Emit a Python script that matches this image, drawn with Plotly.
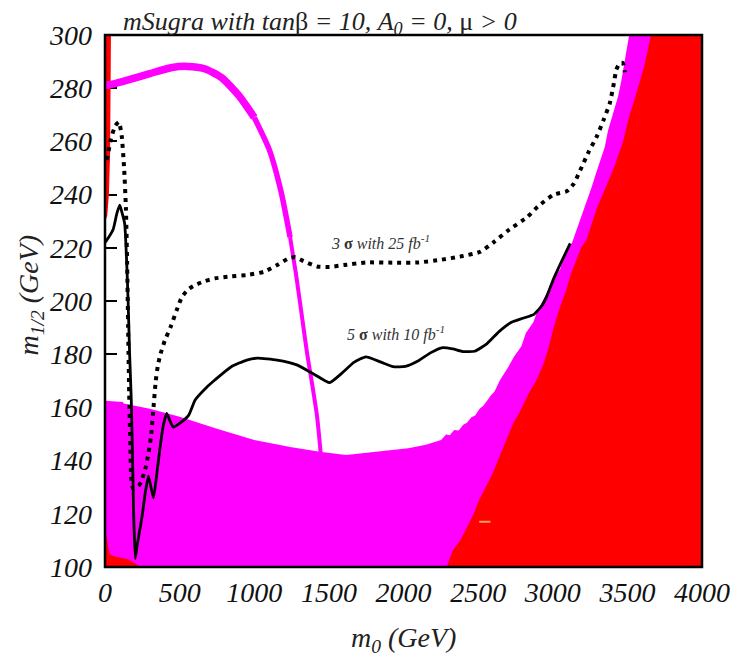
import plotly.graph_objects as go

# ---------------- data ----------------
x_ticks = [0, 500, 1000, 1500, 2000, 2500, 3000, 3500, 4000]
y_ticks = [100, 120, 140, 160, 180, 200, 220, 240, 260, 280, 300]

# magenta curve (thick line)
mag_curve_m0 = [0, 50, 150, 300, 450, 550, 667, 780, 900, 1000, 1100, 1180, 1240, 1280, 1320, 1355, 1390, 1420, 1440, 1445]
mag_curve_m12 = [281, 281.5, 283, 285.5, 287.8, 288.2, 287.3, 284, 277, 269, 257, 241, 224, 210, 194, 180, 168, 157, 146, 142.5]

# magenta region: top boundary of lower region
mag_top_m0 = [0, 120, 125, 300, 500, 750, 1000, 1250, 1440, 1615, 1812, 2032, 2150, 2252, 2285, 2310, 2340, 2370,
              2400, 2425, 2455, 2480, 2510, 2535, 2560, 2585, 2610, 2630, 2647]
mag_top_m12 = [162.5, 162.0, 161.5, 159.5, 156.5, 152, 147.7, 145, 143.3, 142.1, 143.3, 144.6, 146, 147.7, 149.8, 149.5,
               151.5, 151.3, 153.5, 154.2, 156.3, 157, 159.5, 160.6, 162.5, 164.5, 166, 168.5, 170.3]
# magenta band: left edge rising to the top
band_m0 = [2700, 2740, 2790, 2820, 2870, 2895, 2960, 2990, 3050, 3075, 3130, 3155, 3196, 3220, 3262, 3290, 3349,
           3370, 3438, 3460, 3504, 3512]
band_m12 = [175, 179, 183, 188, 192, 196, 203, 207, 212, 217, 222, 226, 232, 236, 243, 248, 258, 264, 277, 283, 297, 300]

# red region boundary (right)
red_m0 = [2290, 2328, 2380, 2438, 2471, 2505, 2550, 2596, 2625, 2676, 2735, 2776, 2810, 2846, 2889, 2936, 2970, 3006,
          3050, 3090, 3120, 3156, 3190, 3226, 3251, 3296, 3350, 3416, 3471, 3510, 3560, 3616, 3658]
red_m12 = [100, 106, 110, 116, 120, 125, 130, 135, 139, 146, 154, 158, 162, 166, 170, 176, 182, 190, 198, 204, 210, 215,
           220, 223, 227, 235, 242, 251, 260, 269, 278, 289, 300]

# small red areas at the left edge
red_bl_m0 = [0, 0, 15, 30, 60, 150, 242]
red_bl_m12 = [100, 114, 110, 105, 104, 103, 100]
red_tl_m0 = [0, 0, 40, 38, 34, 26, 15]
red_tl_m12 = [230, 300, 300, 275, 255, 240, 232]

# 5 sigma with 10 fb^-1 (solid)
s5_m0 = [0, 25, 55, 80, 99, 115, 132, 145, 154, 165, 176, 185, 193, 203, 215, 230, 247, 270, 291, 308, 325, 345, 369,
         390, 413, 435, 457, 500, 560, 604, 680, 736, 846, 950, 1021, 1153, 1285, 1400, 1505, 1580, 1670, 1748, 1850,
         1930, 2013, 2100, 2180, 2256, 2330, 2400, 2477, 2560, 2640, 2720, 2800, 2874, 2930, 2962, 3006, 3060, 3117]
s5_m12 = [222, 224, 227, 233, 236, 233, 229, 215, 201.6, 180, 162.8, 140, 118, 103.2, 108, 113, 118.4, 128, 134.2, 130,
          126, 134, 145, 153, 157.7, 155, 152.6, 154, 157, 162.8, 167.5, 170.3, 175.3, 177.8, 178.5, 177.8, 176, 172.5,
          169.3, 172.5, 177, 179, 177, 175.3, 175.4, 177.5, 180.5, 182.4, 182, 181, 181.1, 184, 188.5, 191.9, 193.5,
          195, 198.5, 202, 208.4, 215, 221.7]

# 3 sigma with 25 fb^-1 (dotted)
s3_m0 = [13, 40, 70, 93, 112, 128, 140, 148, 155, 162, 170, 176, 188, 203, 225, 242, 260, 275, 292, 308, 325, 340, 355,
         373, 400, 440, 480, 516, 560, 604, 670, 736, 850, 955, 1066, 1153, 1230, 1275, 1330, 1420, 1505, 1600, 1750,
         1947, 2100, 2250, 2388, 2515, 2609, 2700, 2828, 2900, 3006, 3095, 3140, 3183, 3240, 3293, 3340, 3382, 3410,
         3426, 3450, 3470, 3483]
s3_m12 = [253, 261, 266, 267.3, 262, 250, 235, 215, 190, 165, 145, 133, 129.5, 129.8, 130.5, 132, 135, 138, 143, 149,
          160, 170, 176, 180.3, 185, 190.3, 196.5, 201.6, 204.5, 206, 207.5, 208.5, 209.3, 209.8, 211, 213.5, 216, 216.5,
          215, 213, 212.8, 213.5, 214.5, 214.4, 214.5, 215.5, 216.8, 218.5, 222.3, 226.5, 231.5, 235.5, 240, 241.3, 244,
          249, 256, 261.6, 268, 274.3, 282, 287, 289.5, 289.5, 286]

# white speck inside the red area
speck_m0 = [2545]
speck_m12 = [117]

# labels
label3_pos = (1845, 222)
label5_pos = (1951, 187.6)

# ---------------- figure ----------------
MAG = "#FF00FF"
RED = "#FF0000"
FONT = "Liberation Serif"

fig = go.Figure()

# magenta region
mag_poly_x = [0] + mag_top_m0 + band_m0 + [4000, 4000, 0]
mag_poly_y = [100] + mag_top_m12 + band_m12 + [300, 100, 100]
fig.add_trace(go.Scatter(x=mag_poly_x, y=mag_poly_y, fill="toself", fillcolor=MAG, mode="lines",
                         line=dict(width=0, color=MAG), hoverinfo="skip"))
# red region
red_poly_x = red_m0 + [4000, 4000, red_m0[0]]
red_poly_y = red_m12 + [300, 100, 100]
fig.add_trace(go.Scatter(x=red_poly_x, y=red_poly_y, fill="toself", fillcolor=RED, mode="lines",
                         line=dict(width=0, color=RED), hoverinfo="skip"))
fig.add_trace(go.Scatter(x=red_bl_m0 + [0], y=red_bl_m12 + [100], fill="toself", fillcolor=RED, mode="lines",
                         line=dict(width=0, color=RED), hoverinfo="skip"))
fig.add_trace(go.Scatter(x=red_tl_m0 + [0], y=red_tl_m12 + [230], fill="toself", fillcolor=RED, mode="lines",
                         line=dict(width=0, color=RED), hoverinfo="skip"))
fig.add_trace(go.Scatter(x=speck_m0, y=speck_m12, mode="markers",
                         marker=dict(symbol="line-ew-open", size=8, line=dict(width=2, color="white")),
                         hoverinfo="skip"))

# magenta curve in segments of decreasing width
segs = [(0, 10, 7.5), (9, 13, 5.5), (12, len(mag_curve_m0), 4)]
for a, b, w in segs:
    fig.add_trace(go.Scatter(x=mag_curve_m0[a:b], y=mag_curve_m12[a:b], mode="lines",
                             line=dict(color=MAG, width=w, shape="spline", smoothing=0.6), hoverinfo="skip"))

# sigma curves
fig.add_trace(go.Scatter(x=s3_m0, y=s3_m12, mode="lines",
                         line=dict(color="black", width=4, dash="4px,5px", shape="spline", smoothing=0.5),
                         hoverinfo="skip"))
fig.add_trace(go.Scatter(x=s5_m0, y=s5_m12, mode="lines",
                         line=dict(color="black", width=2.8, shape="spline", smoothing=0.5),
                         hoverinfo="skip"))

# page body has an 8px margin, so the figure is 8px smaller and margins shifted
tickfont = dict(family=FONT, size=28, color="#111111", style="italic")
fig.update_layout(
    width=734, height=652,
    margin=dict(l=97, r=30, t=27, b=93),
    plot_bgcolor="white", paper_bgcolor="white",
    showlegend=False,
    xaxis=dict(range=[0, 4000], tickvals=x_ticks, ticks="", showgrid=False, zeroline=False, showline=False,
               tickfont=tickfont, ticklabelstandoff=6, layer="below traces"),
    yaxis=dict(range=[100, 300], tickvals=y_ticks, ticks="inside", ticklen=12, tickwidth=2, tickcolor="black",
               showgrid=False, zeroline=False, showline=False, tickfont=tickfont, ticklabelstandoff=12,
               layer="below traces"),
    shapes=[dict(type="rect", xref="paper", yref="paper", x0=0, x1=1, y0=0, y1=1,
                 line=dict(color="black", width=2.5), layer="above")],
)

annots = [
    dict(text="<i>mSugra with tan</i>β<i> = 10, A<sub>0</sub> = 0, </i>μ<i> > 0</i>",
         xref="paper", yref="paper", x=0.026, y=1.0226, xanchor="left", yanchor="middle",
         showarrow=False, font=dict(family=FONT, size=26, color="#222222")),
    dict(text="<i>m<sub>0</sub> (GeV)</i>", xref="paper", yref="paper", x=0.5, y=-0.137,
         xanchor="center", yanchor="middle", showarrow=False, font=dict(family=FONT, size=28, color="#222222")),
    dict(text="<i>m<sub>1/2</sub> (GeV)</i>", xref="paper", yref="paper", x=-0.125, y=0.511, textangle=-90,
         xanchor="center", yanchor="middle", showarrow=False, font=dict(family=FONT, size=28, color="#222222")),
    dict(text="<i>3 </i><b>σ</b><i> with 25 fb<sup>-1</sup></i>", x=label3_pos[0], y=label3_pos[1], xref="x", yref="y",
         showarrow=False, font=dict(family=FONT, size=16, color="#333333")),
    dict(text="<i>5 </i><b>σ</b><i> with 10 fb<sup>-1</sup></i>", x=label5_pos[0], y=label5_pos[1], xref="x", yref="y",
         showarrow=False, font=dict(family=FONT, size=16, color="#333333")),
]
fig.update_layout(annotations=annots)

fig.write_html("out.html")
